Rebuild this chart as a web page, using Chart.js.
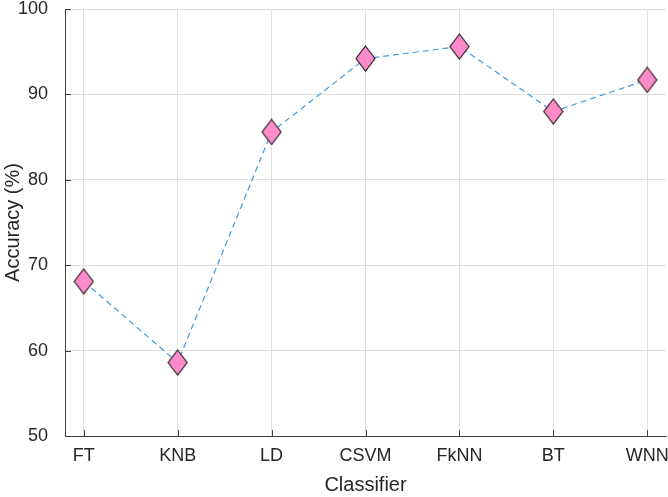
<!DOCTYPE html>
<html>
<head>
<meta charset="utf-8">
<script src="https://cdn.jsdelivr.net/npm/chart.js@4"></script>
<style>
html,body{margin:0;padding:0;background:#fff;}
#wrap{width:668px;height:497px;position:relative;}
</style>
</head>
<body>
<div id="wrap"><canvas id="c" width="668" height="497"></canvas></div>
<script>
const categories = ["FT", "KNB", "LD", "CSVM", "FkNN", "BT", "WNN"];
const accuracy = [68.1, 58.6, 85.6, 94.2, 95.6, 88.0, 91.7];
const yTicks = [50, 60, 70, 80, 90, 100];

function diamond(w, h) {
  const cv = document.createElement('canvas');
  cv.width = w + 2; cv.height = h + 2;
  const g = cv.getContext('2d');
  g.beginPath();
  g.moveTo(cv.width / 2, 1);
  g.lineTo(cv.width - 1, cv.height / 2);
  g.lineTo(cv.width / 2, cv.height - 1);
  g.lineTo(1, cv.height / 2);
  g.closePath();
  g.fillStyle = '#ff8cc8';
  g.fill();
  g.lineWidth = 1.2;
  g.strokeStyle = '#2a2228';
  g.stroke();
  return cv;
}
const marker = diamond(19, 25);

const inwardTicks = {
  id: 'inwardTicks',
  afterDatasetsDraw(chart) {
    const ctx = chart.ctx, a = chart.chartArea;
    const xs = chart.scales.x, ys = chart.scales.y;
    ctx.save();
    ctx.strokeStyle = '#404040';
    ctx.lineWidth = 1;
    ys.ticks.forEach(t => {
      const y = Math.round(ys.getPixelForValue(t.value)) + 0.5;
      ctx.beginPath(); ctx.moveTo(a.left, y); ctx.lineTo(a.left + 6, y); ctx.stroke();
    });
    xs.ticks.forEach(t => {
      const x = Math.round(xs.getPixelForValue(t.value)) + 0.5;
      ctx.beginPath(); ctx.moveTo(x, a.bottom); ctx.lineTo(x, a.bottom - 6); ctx.stroke();
    });
    ctx.restore();
  }
};

const font = "'Liberation Sans', Arial, Helvetica, sans-serif";
new Chart(document.getElementById('c'), {
  type: 'line',
  data: {
    datasets: [{
      data: accuracy.map((v, i) => ({x: i, y: v})),
      borderColor: '#3f9be0',
      borderWidth: 1.2,
      borderDash: [6, 4],
      pointStyle: marker,
      pointRadius: 12,
      tension: 0,
      fill: false
    }]
  },
  options: {
    responsive: false,
    animation: false,
    layout: {autoPadding: false, padding: {top: 9, right: 2, left: 0, bottom: 0}},
    plugins: {legend: {display: false}, tooltip: {enabled: false}},
    scales: {
      x: {
        type: 'linear',
        min: -0.2,
        max: 6.2,
        afterBuildTicks(s) { s.ticks = categories.map((_, i) => ({value: i})); },
        afterFit(s) { s.height = 61; s.paddingLeft = 0; s.paddingRight = 0; },
        ticks: {
          callback: (v) => categories[v] ?? '',
          color: '#262626',
          font: {family: font, size: 18},
          padding: 9,
          maxRotation: 0,
          autoSkip: false
        },
        grid: {color: '#e0e0e0', drawTicks: false, tickLength: 0},
        border: {color: '#404040', width: 1},
        title: {display: true, text: 'Classifier', color: '#262626', font: {family: font, size: 20}, padding: {top: 0, bottom: 0}}
      },
      y: {
        min: 50,
        max: 100,
        afterBuildTicks(s) { s.ticks = yTicks.map(v => ({value: v})); },
        afterFit(s) { s.width = 65; s.paddingTop = 0; s.paddingBottom = 0; },
        ticks: {
          color: '#262626',
          font: {family: font, size: 18},
          padding: 17
        },
        grid: {color: '#e0e0e0', drawTicks: false, tickLength: 0},
        border: {color: '#404040', width: 1},
        title: {display: true, text: 'Accuracy (%)', color: '#262626', font: {family: font, size: 20}, padding: {top: 1, bottom: 0}}
      }
    }
  },
  plugins: [inwardTicks]
});
</script>
</body>
</html>
